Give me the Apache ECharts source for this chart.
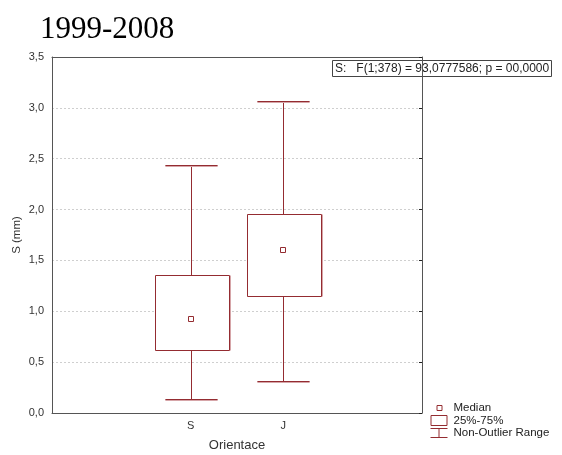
<!DOCTYPE html>
<html>
<head>
<meta charset="utf-8">
<script src="https://cdn.jsdelivr.net/npm/echarts@6/dist/echarts.min.js"></script>
<style>
  html, body { margin: 0; padding: 0; background: #fff; }
  #chart { width: 562px; height: 455px; }
</style>
</head>
<body>
<div id="chart"></div>
<script>
// Orientation groups (blank slots pad the axis on both sides)
const categories = ['', 'S', 'J', ''];
const groupIndex = [1, 2];
// Box plot statistics of S (mm) per orientation
const whiskerLow = [0.14, 0.31];
const q1 = [0.62, 1.15];
const median = [0.92, 1.60];
const q3 = [1.355, 1.955];
const whiskerHigh = [2.435, 3.07];
const yTicks = [0, 0.5, 1, 1.5, 2, 2.5, 3, 3.5];

const boxColor = '#942c31';
const shadeColor = '#d6a5a8';
const frameColor = '#555';
const sans = 'Liberation Sans, Arial, sans-serif';

const boxData = groupIndex.map((g, i) => [g, whiskerLow[i], q1[i], median[i], q3[i], whiskerHigh[i]]);

const comma = v => v.toFixed(1).replace('.', ',');

function renderBox(params, api) {
  const x = api.value(0);
  const pLow = api.coord([x, api.value(1)]);
  const pQ1 = api.coord([x, api.value(2)]);
  const pMed = api.coord([x, api.value(3)]);
  const pQ3 = api.coord([x, api.value(4)]);
  const pHigh = api.coord([x, api.value(5)]);
  const band = api.size([1, 0])[0];
  const bw = band * 0.8;
  const cw = band * 0.565;
  const cx = Math.round(pMed[0]) + 0.5;
  const line = (x1, y1, x2, y2, color, w) => ({
    type: 'line',
    shape: { x1, y1, x2, y2 },
    style: { stroke: color, lineWidth: w || 1 }
  });
  const yq1 = Math.round(pQ1[1]) + 0.5, yq3 = Math.round(pQ3[1]) + 0.5;
  const ylo = Math.round(pLow[1]) + 0.5, yhi = Math.round(pHigh[1]) + 0.5;
  const left = Math.round(cx - bw / 2) + 0.5, right = Math.round(cx + bw / 2) + 0.5;
  return {
    type: 'group',
    children: [
      // whisker stems and caps
      line(cx, yhi, cx, yq3, boxColor),
      line(cx, yq1, cx, ylo, boxColor),
      line(cx - cw / 2, yhi + 1, cx + cw / 2, yhi + 1, shadeColor),
      line(cx - cw / 2, ylo + 1, cx + cw / 2, ylo + 1, shadeColor),
      line(cx - cw / 2, yhi, cx + cw / 2, yhi, boxColor),
      line(cx - cw / 2, ylo, cx + cw / 2, ylo, boxColor),
      // interquartile box with light edge on the right
      line(right + 1, yq3, right + 1, yq1, shadeColor),
      {
        type: 'rect',
        shape: { x: left, y: yq3, width: right - left, height: yq1 - yq3 },
        style: { fill: '#fff', stroke: boxColor, lineWidth: 1 }
      },
      // median marker
      {
        type: 'rect',
        shape: { x: cx - 3, y: Math.round(pMed[1]) - 2.5, width: 5, height: 5 },
        style: { fill: '#fff', stroke: boxColor, lineWidth: 1 }
      }
    ]
  };
}

const chart = echarts.init(document.getElementById('chart'), null, { renderer: 'canvas' });

chart.setOption({
  animation: false,
  backgroundColor: '#fff',
  title: {
    text: '1999-2008',
    left: 35, top: 9,
    textStyle: { fontFamily: 'Liberation Serif, Times New Roman, serif', fontSize: 31, fontWeight: 'normal', color: '#000' }
  },
  grid: { left: 52, right: 140, top: 57, bottom: 42, containLabel: false, outerBoundsMode: 'none' },
  xAxis: [{
    type: 'category',
    data: categories,
    position: 'bottom',
    name: 'Orientace',
    nameLocation: 'middle',
    nameGap: 26,
    nameMoveOverlap: false,
    nameTextStyle: { fontFamily: sans, fontSize: 13, color: '#333' },
    axisLine: { onZero: false, lineStyle: { color: frameColor, width: 1 } },
    axisTick: { alignWithLabel: true, inside: true, length: 3, lineStyle: { color: '#222' } },
    axisLabel: { margin: 7, fontFamily: sans, fontSize: 11, color: '#333' },
    splitLine: { show: false }
  }, {
    type: 'category',
    data: categories,
    position: 'top',
    axisLine: { onZero: false, lineStyle: { color: frameColor, width: 1 } },
    axisTick: { alignWithLabel: true, inside: true, length: 3, lineStyle: { color: '#222' } },
    axisLabel: { show: false },
    splitLine: { show: false }
  }],
  yAxis: [{
    type: 'value',
    min: yTicks[0],
    max: yTicks[yTicks.length - 1],
    interval: 0.5,
    name: 'S (mm)',
    nameLocation: 'middle',
    nameGap: 29,
    nameMoveOverlap: false,
    nameTextStyle: { fontFamily: sans, fontSize: 11.5, color: '#333' },
    axisLine: { show: true, onZero: false, lineStyle: { color: frameColor, width: 1 } },
    axisTick: { show: false },
    axisLabel: { margin: 8, formatter: comma, fontFamily: sans, fontSize: 11, color: '#333' },
    splitLine: { show: true, lineStyle: { color: '#cfcfcf', type: [2, 2], width: 1 } }
  }, {
    type: 'value',
    position: 'right',
    min: yTicks[0],
    max: yTicks[yTicks.length - 1],
    interval: 0.5,
    axisLine: { show: true, onZero: false, lineStyle: { color: frameColor, width: 1 } },
    axisTick: { show: true, inside: true, length: 3, lineStyle: { color: '#222' } },
    axisLabel: { show: false },
    splitLine: { show: false }
  }],
  series: [{
    type: 'custom',
    xAxisIndex: 0,
    yAxisIndex: 0,
    renderItem: renderBox,
    encode: { x: 0, y: [1, 2, 3, 4, 5] },
    data: boxData,
    z: 5
  }],
  graphic: [
    // statistics note in the top right corner
    {
      type: 'group', left: 332, top: 60, z: 100,
      children: [
        { type: 'rect', shape: { x: 0.5, y: 0.5, width: 219, height: 16 }, style: { fill: '#fff', stroke: '#444', lineWidth: 1 } },
        { type: 'text', x: 3, y: 9, style: { text: 'S:   F(1;378) = 93,0777586; p = 00,0000', fill: '#222', font: '12px Liberation Sans, Arial, sans-serif', verticalAlign: 'middle' } }
      ]
    },
    // legend
    {
      type: 'group', left: 428, top: 402, z: 100,
      children: [
        { type: 'rect', shape: { x: 6.5, y: 3.5, width: 5, height: 5 }, style: { fill: '#fff', stroke: boxColor, lineWidth: 1 } },
        { type: 'text', x: 23, y: 6, style: { text: 'Median', fill: '#222', font: '11.5px Liberation Sans, Arial, sans-serif', verticalAlign: 'middle' } },
        { type: 'rect', shape: { x: 0.5, y: 13.5, width: 16, height: 10 }, style: { fill: '#fff', stroke: boxColor, lineWidth: 1 } },
        { type: 'text', x: 23, y: 19, style: { text: '25%-75%', fill: '#222', font: '11.5px Liberation Sans, Arial, sans-serif', verticalAlign: 'middle' } },
        { type: 'line', shape: { x1: 0, y1: 26.5, x2: 17, y2: 26.5 }, style: { stroke: boxColor, lineWidth: 1 } },
        { type: 'line', shape: { x1: 8.5, y1: 26.5, x2: 8.5, y2: 35.5 }, style: { stroke: boxColor, lineWidth: 1 } },
        { type: 'line', shape: { x1: 0, y1: 35.5, x2: 17, y2: 35.5 }, style: { stroke: boxColor, lineWidth: 1 } },
        { type: 'text', x: 23, y: 31, style: { text: 'Non-Outlier Range', fill: '#222', font: '11.5px Liberation Sans, Arial, sans-serif', verticalAlign: 'middle' } }
      ]
    }
  ]
});
</script>
</body>
</html>
